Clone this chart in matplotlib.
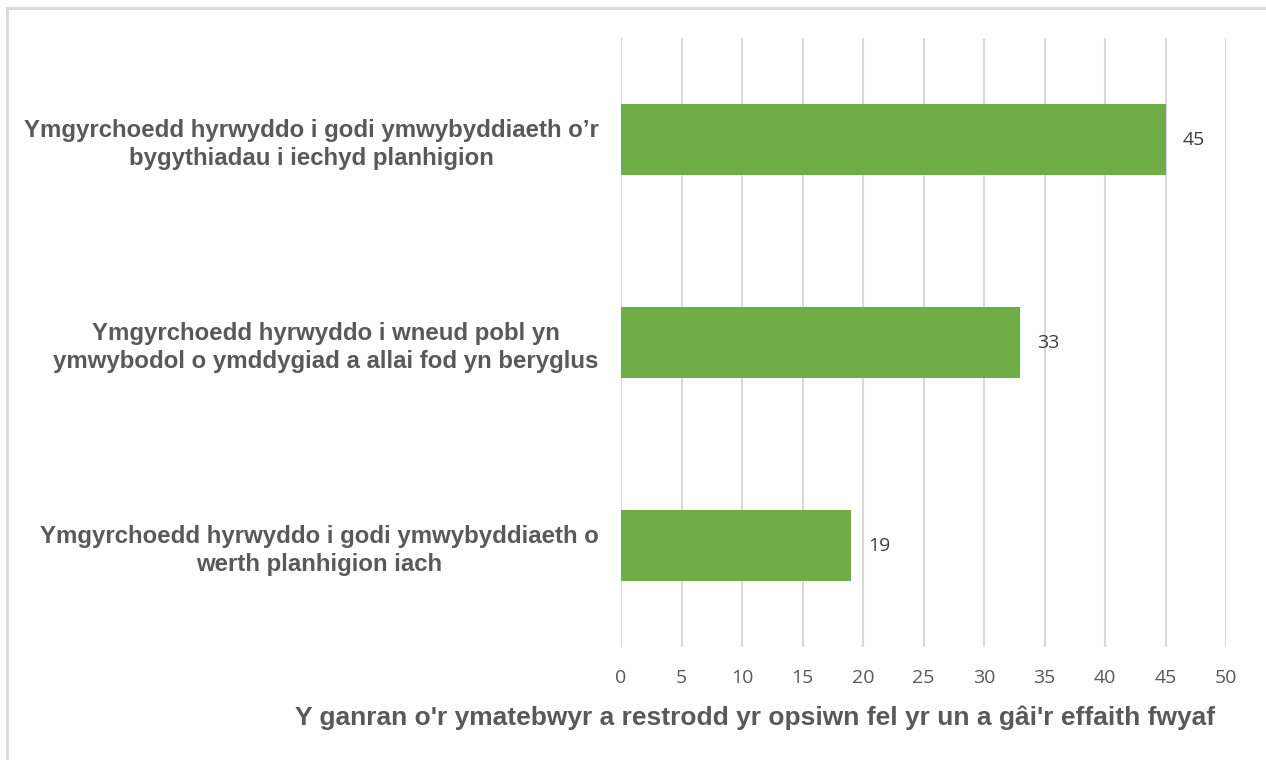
import matplotlib.pyplot as plt
from matplotlib.lines import Line2D

categories = [
    "Ymgyrchoedd hyrwyddo i godi ymwybyddiaeth o\u2019r\nbygythiadau i iechyd planhigion",
    "Ymgyrchoedd hyrwyddo i wneud pobl yn\nymwybodol o ymddygiad a allai fod yn beryglus",
    "Ymgyrchoedd hyrwyddo i godi ymwybyddiaeth o\nwerth planhigion iach",
]
values = [45, 33, 19]
xticks = list(range(0, 55, 5))
xlabel = "Y ganran o'r ymatebwyr a restrodd yr opsiwn fel yr un a gâi'r effaith fwyaf"

W, H = 1266, 760
fig = plt.figure(figsize=(W / 100, H / 100), dpi=100)
# plot area in pixels: x 621..1226, y 38..647
ax = fig.add_axes([621 / W, 1 - 647 / H, (1226 - 621) / W, (647 - 38) / H])

label_font = ["Liberation Sans", "DejaVu Sans"]
num_font = ["Open Sans", "DejaVu Sans"]

pos = list(range(len(categories)))
ax.barh(pos, values, height=0.35, color="#70AD47", zorder=3)
ax.set_ylim(2.5, -0.5)
ax.set_xlim(0, 50)
ax.set_xticks(xticks)
ax.set_yticks(pos)
ax.set_yticklabels(categories, fontsize=17.3, fontweight="bold", color="#595959",
                   family=label_font, multialignment="center", linespacing=1.3)
ax.set_xticklabels([str(t) for t in xticks], fontsize=14, color="#595959", family=num_font)
ax.tick_params(axis="both", length=0)
ax.tick_params(axis="x", pad=16)
ax.tick_params(axis="y", pad=16)
ax.grid(axis="x", color="#D9D9D9", linewidth=1.5, zorder=0)
for s in ax.spines.values():
    s.set_visible(False)

for p, v in zip(pos, values):
    ax.annotate(str(v), (v, p), xytext=(28, 0), textcoords="offset pixels",
                ha="center", va="center", fontsize=14, color="#404040", family=num_font)

fig.text(755 / W, 1 - 718 / H, xlabel, ha="center", va="center", fontsize=19,
         fontweight="bold", color="#595959", family=label_font)

# outer chart border (top and left only visible)
fig.add_artist(Line2D([7 / W, 1], [1 - 8 / H, 1 - 8 / H], color="#D9D9D9", linewidth=2,
                      transform=fig.transFigure))
fig.add_artist(Line2D([7 / W, 7 / W], [0, 1 - 8 / H], color="#D9D9D9", linewidth=2,
                      transform=fig.transFigure))

fig.savefig("out.png", dpi=100)
